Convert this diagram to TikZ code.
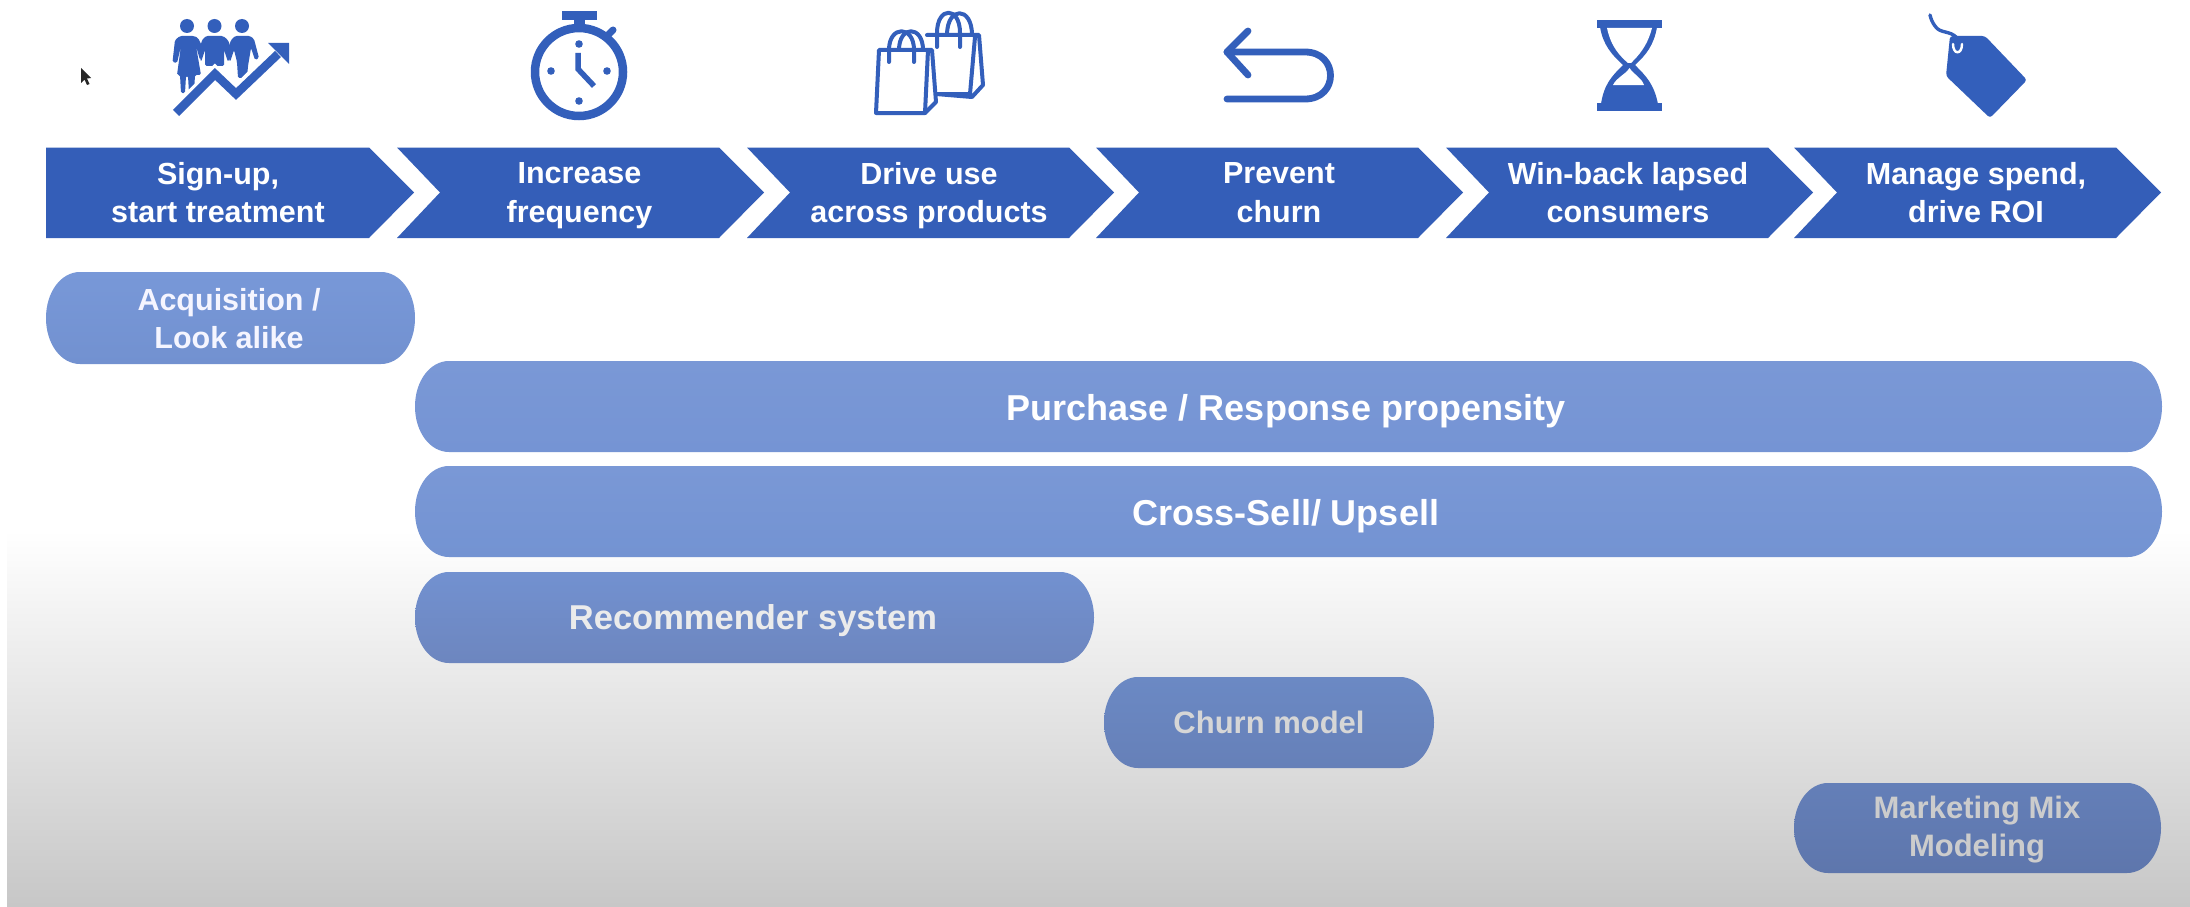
\documentclass[tikz,border=0pt]{standalone}
\usepackage{fontspec}
\setmainfont{Liberation Sans}
\definecolor{chev}{HTML}{345EB8}
\definecolor{icon}{HTML}{335FBB}
\tikzset{
  x=1pt,y=-1pt,
  chevlabel/.style={align=center,text=white,font=\bfseries\fontsize{30.5}{38.5}\selectfont,inner sep=0pt,
    execute at begin node={\vphantom{Agp}},execute at end node={\vphantom{Agp}}},
  pilllabel/.style={align=center,font=\bfseries\fontsize{#1}{38}\selectfont,inner sep=0pt,
    execute at begin node={\vphantom{Agp}},execute at end node={\vphantom{Agp}}},
  iconline/.style={draw=icon,line cap=round,line join=round,fill=none}
}
% left, label centre x, label, name
\newcommand{\chevhead}[4]{%
  \fill[chev] (#1,147.5) -- (#1+322,147.5) -- (#1+367,192.5) -- (#1+322,238) -- (#1,238) -- (#1+43,192.5) -- cycle;
  \node[chevlabel] (#4) at (#2,195.5) {#3};}
% x1 y1 x2 y2 top bottom
\newcommand{\pillshape}[6]{%
  \definecolor{pilltop}{HTML}{#5}\definecolor{pillbot}{HTML}{#6}%
  \shade[top color=pilltop,bottom color=pillbot]
   (#1+34,#2) -- (#3-34,#2)
   .. controls (#3-15,#2) and (#3,#2+20) .. (#3,#2/2+#4/2)
   .. controls (#3,#4-20) and (#3-15,#4) .. (#3-34,#4)
   -- (#1+34,#4)
   .. controls (#1+15,#4) and (#1,#4-20) .. (#1,#2/2+#4/2)
   .. controls (#1,#2+20) and (#1+15,#2) .. (#1+34,#2) -- cycle;}
\begin{document}
\begin{tikzpicture}
\useasboundingbox (0,0) rectangle (2190,907);
\fill[white] (0,0) rectangle (2190,907);
\shade[top color=white,bottom color=white!78!black] (7,530) rectangle (2190,907);

% cursor
\fill[black!85] (81,68) -- (81,83) -- (84.5,79.5) -- (87,85) -- (89.5,84) -- (87,78.5) -- (91,78) -- cycle;

% chevrons
\fill[chev] (46,147.5) -- (369,147.5) -- (414,192.5) -- (369,238) -- (46,238) -- cycle;
\node[chevlabel] (c1) at (218,195.5) {Sign-up,\\start treatment};
\chevhead{397}{579.5}{Increase\\frequency}{c2}
\chevhead{747}{929}{Drive use\\across products}{c3}
\chevhead{1096}{1279}{Prevent\\churn}{c4}
\chevhead{1446}{1628}{Win-back lapsed\\consumers}{c5}
\chevhead{1794}{1976}{Manage spend,\\drive ROI}{c6}

% pills
\pillshape{46}{272}{415}{364}{7898D8}{7291D0}
\node[pilllabel=30.5,text=white!96!blue] (p1) at (229,322) {Acquisition /\\Look alike};
\pillshape{415}{361}{2162}{452}{7A98D6}{7594D4}
\node[pilllabel=36,text=white] (p2) at (1286,411) {Purchase / Response propensity};
\pillshape{415}{466}{2162}{557}{7A98D6}{7393D2}
\node[pilllabel=36,text=white] (p3) at (1286,516) {Cross-Sell/ Upsell};
\pillshape{415}{572}{1094}{663}{7291D0}{6D86BF}
\node[pilllabel=34.5,text=white!92!black] (p4) at (753,621) {Recommender system};
\pillshape{1104}{677}{1434}{768}{6B89C4}{6680B8}
\node[pilllabel=31,text=white!84!black] (p5) at (1269,725.5) {Churn model};
\pillshape{1794}{783}{2161}{873}{647FB8}{5E76AC}
\node[pilllabel=31,text=white!80!black] (p6) at (1977,829.5) {Marketing Mix\\Modeling};

% icon 1: people and rising arrow
\foreach \hx in {187,214.5,242} \fill[icon] (\hx,26) circle (7);
\fill[icon,rounded corners=1.5pt] % woman
  (180,36) -- (194,36) -- (198,38) -- (204,50) -- (200,60) -- (196,46) -- (201,75) -- (195,75) -- (194,93) -- (189,93) -- (188,76) -- (186,76) -- (185,93) -- (181,93) -- (180,75) -- (177,75) -- (181,46) -- (177,63) -- (172.5,62) -- (175,40) -- cycle;
\fill[icon,rounded corners=1.5pt] % middle person
  (206,36) -- (223,36) -- (228,40) -- (232,52) -- (228,62) -- (224,50) -- (224,66) -- (205,66) -- (205,50) -- (201,62) -- (199,52) -- (202,40) -- cycle;
\fill[icon,rounded corners=1.5pt] % right person
  (235,36) -- (250,36) -- (254,39) -- (259,58) -- (255,60) -- (251,48) -- (248,66) -- (247,78) -- (238,78) -- (237,62) -- (234,50) -- (230,62) -- (227,52) -- (231,40) -- cycle;
\draw[white,line width=15pt,line join=miter] (176,113) -- (215,74) -- (236,94) -- (278,52);
\draw[icon,line width=8.5pt,line join=miter] (176,113) -- (215,74) -- (236,94) -- (278,54);
\fill[icon] (268,43) -- (289,43) -- (289,64) -- cycle;

% icon 2: stopwatch
\draw[icon,line width=8.5pt] (579,72) circle (44);
\fill[icon] (562,11) rectangle (597,20);
\fill[icon] (574,19) rectangle (585,28);
\draw[icon,line width=7pt,line cap=round] (606,37) -- (613,30);
\foreach \a/\b in {579/44,551/71,607/71,579/101} \fill[icon] (\a,\b) circle (3.8);
\draw[iconline,line width=5.5pt,line cap=butt,line join=miter] (578,53) -- (578,69) -- (594,86);

% icon 3: shopping bags
\begin{scope}[iconline,line width=4pt]
\draw (947,35) .. controls (947,6) and (972,6) .. (972,35);
\draw (927,35) -- (979,35) -- (983,85) -- (972,97) -- (936,94) -- (970,94) -- (975,37);
\draw (937,47) -- (937,33) .. controls (937,6) and (960,6) .. (960,33) -- (960,47);
\draw[fill=white] (879,50) -- (932,50) -- (936,102) -- (925,113) -- (876,113) -- cycle;
\draw (928,50) -- (925,113);
\draw (899,50) .. controls (899,25) and (923,25) .. (923,50);
\draw (889,62) -- (889,50) .. controls (889,25) and (914,25) .. (914,50) -- (914,62);
\end{scope}

% icon 4: return arrow
\draw[iconline,line width=6.8pt] (1248,31) -- (1227,52) -- (1248,75);
\draw[iconline,line width=6.8pt] (1227,52) -- (1305,52) .. controls (1339,52) and (1339,99) .. (1305,99) -- (1227,99);

% icon 5: hourglass
\fill[icon] (1597,20) rectangle (1662,28);
\fill[icon] (1597,103) rectangle (1662,111);
\fill[icon] (1600,27) .. controls (1603,45) and (1612,55) .. (1623,65)
  .. controls (1612,76) and (1604,84) .. (1601,104) -- (1658,104)
  .. controls (1654,84) and (1646,76) .. (1635,65)
  .. controls (1646,55) and (1654,45) .. (1657,27) -- cycle;
\fill[white] (1607,28) .. controls (1611,47) and (1620,56) .. (1628,63) -- (1631,63)
  .. controls (1638,56) and (1647,47) .. (1652,28) -- cycle;
\fill[white] (1629.5,68) .. controls (1625,75) and (1617,77) .. (1613,85)
  -- (1644,85) .. controls (1641,77) and (1634,75) .. (1629.5,68) -- cycle;

% icon 6: price tag
\fill[icon,rounded corners=3pt] (1950,36) -- (1985,36) -- (2027,80) -- (1990,118) -- (1946,76) -- cycle;
\draw[iconline,line width=3.4pt] (1957,38) .. controls (1950,30) and (1940,34) .. (1935,26) .. controls (1932,22) and (1931,19) .. (1930,15);
\draw[white,line width=2.4pt,line cap=round] (1953,44) .. controls (1953,55) and (1962,55) .. (1962,44);
\end{tikzpicture}
\end{document}
